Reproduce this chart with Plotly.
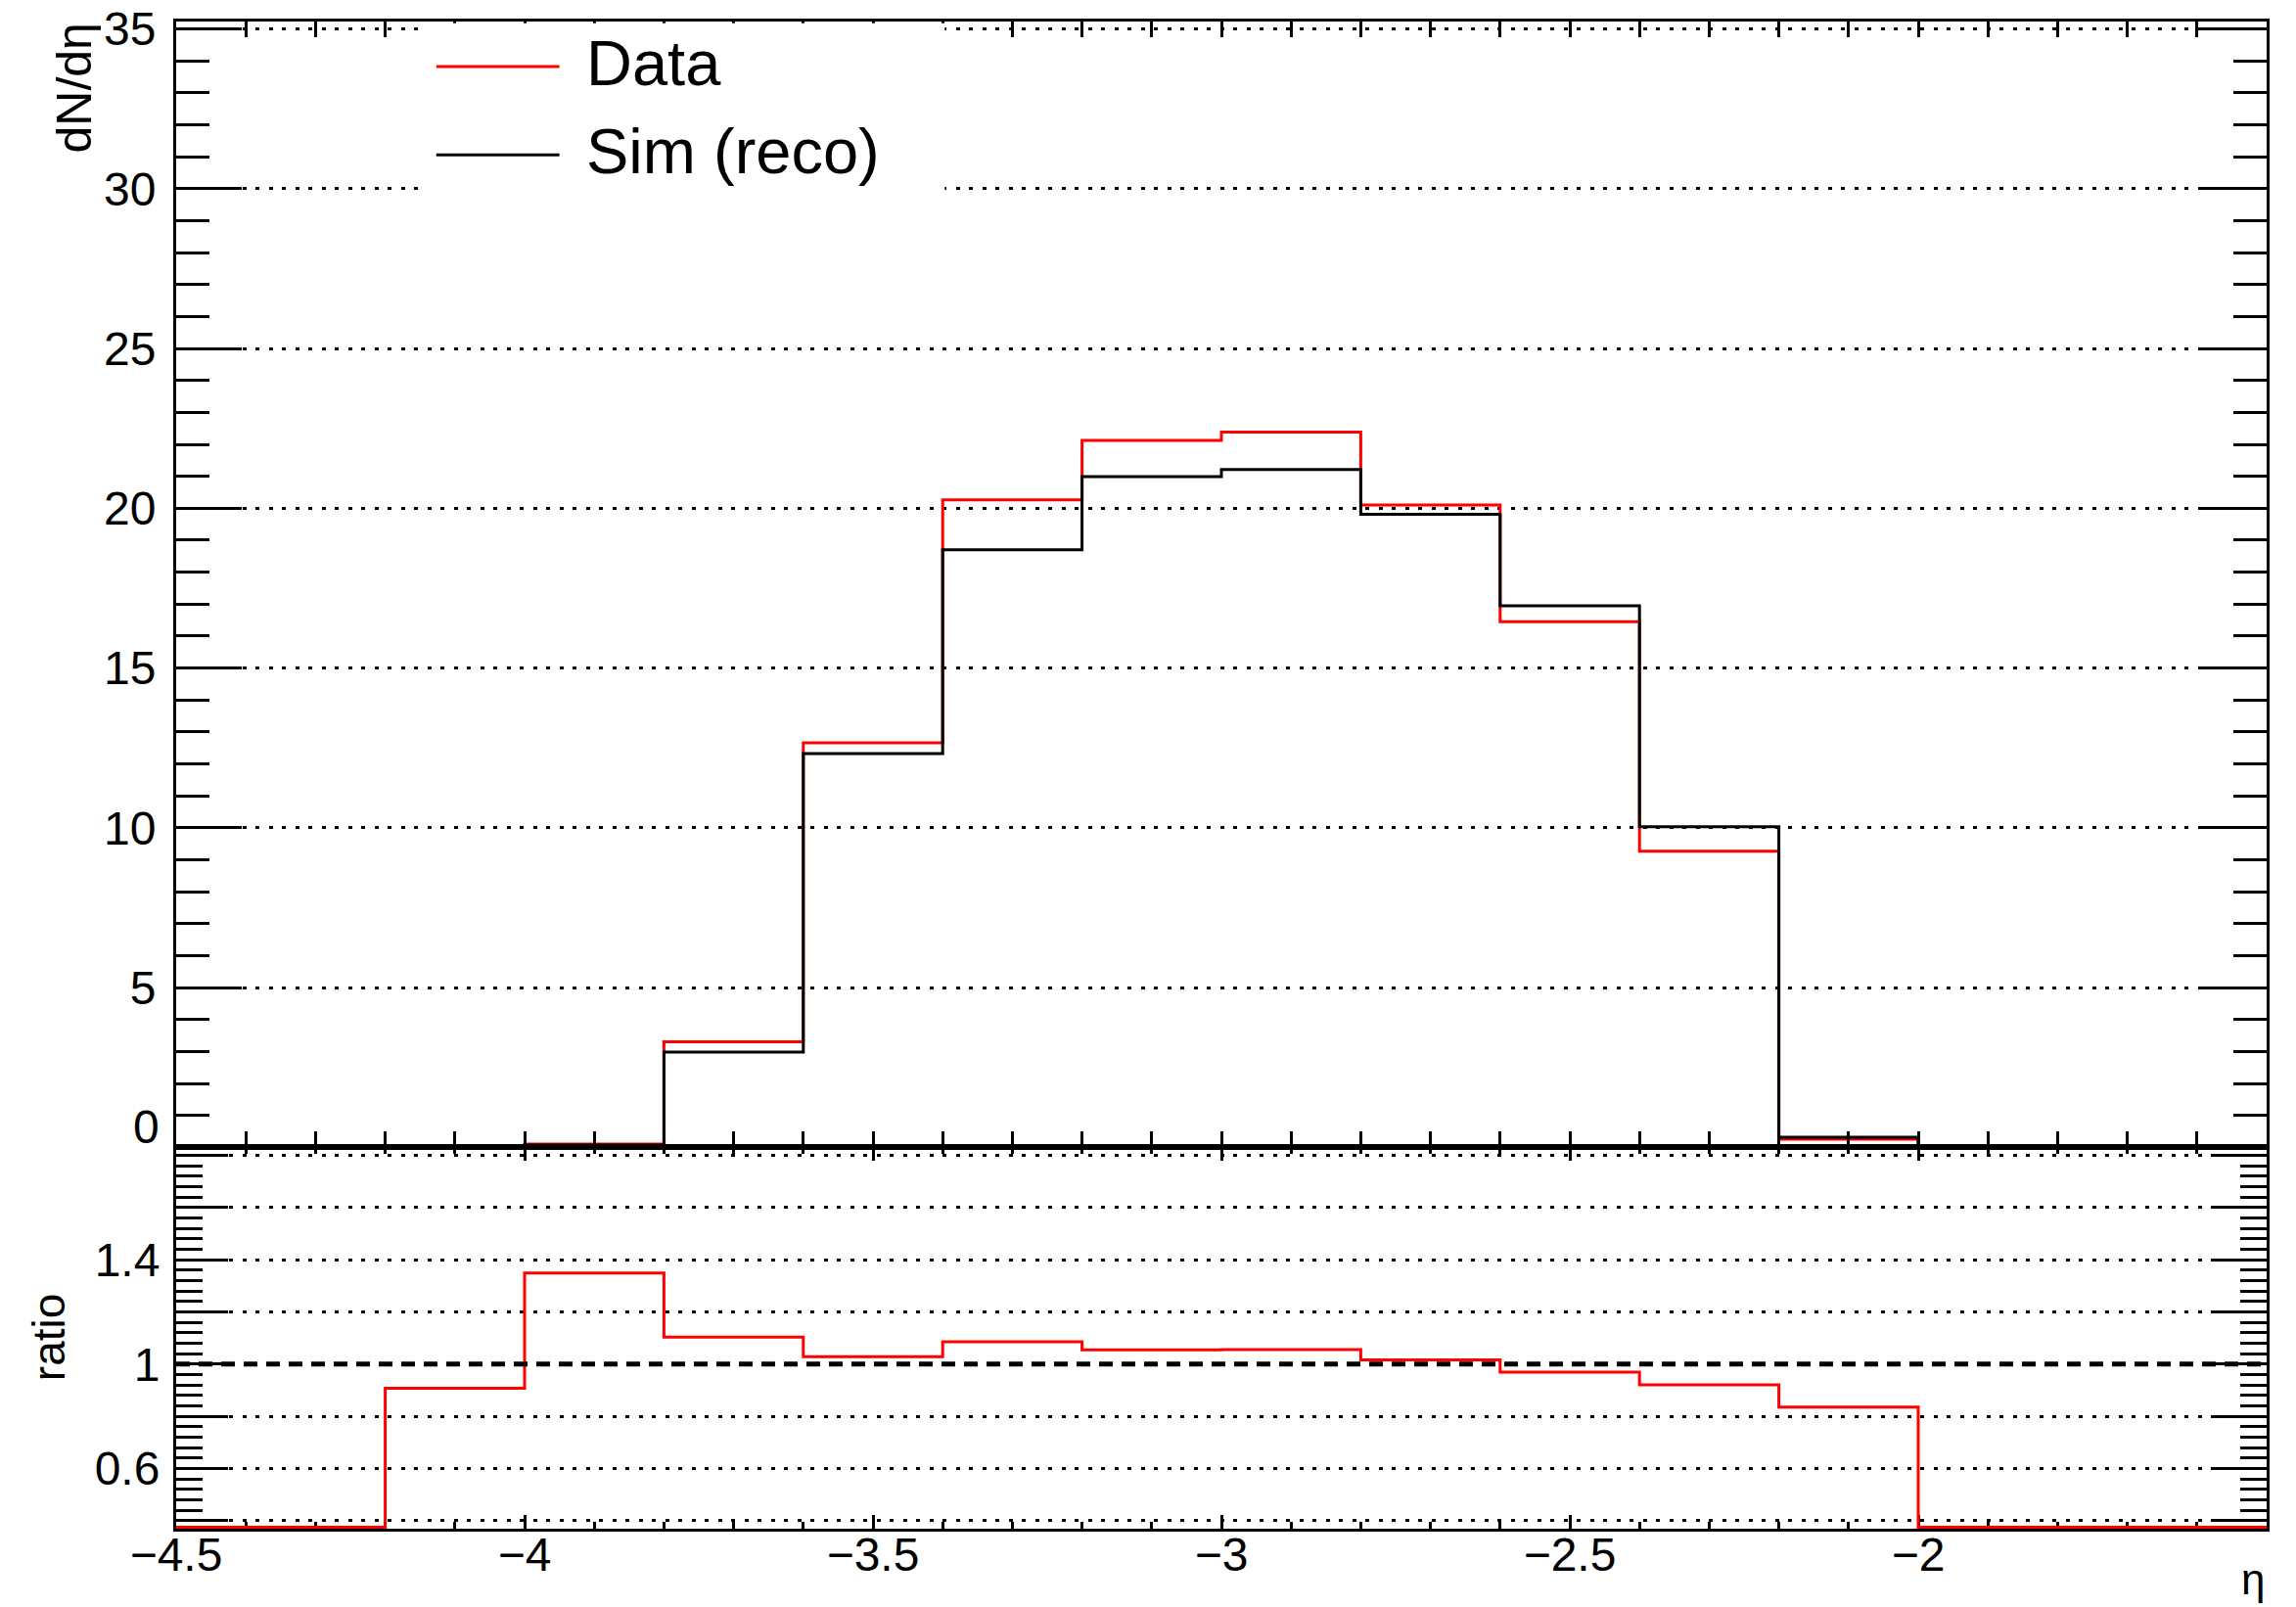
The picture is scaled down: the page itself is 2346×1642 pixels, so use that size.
import plotly.graph_objects as go

# ---------------- data ----------------
eta_edges = [-4.6, -4.4, -4.2, -4.0, -3.8, -3.6, -3.4, -3.2, -3.0, -2.8,
             -2.6, -2.4, -2.2, -2.0, -1.8, -1.6, -1.4]
data_vals = [0, 0, 0, 0.10, 3.30, 12.66, 20.26, 22.12, 22.38, 20.10,
             16.45, 9.27, 0.26, 0, 0, 0]
sim_vals = [0, 0, 0, 0.075, 2.98, 12.32, 18.70, 20.99, 21.21, 19.81,
            16.95, 10.03, 0.315, 0, 0, 0]
ratio_vals = [0, 0, 0.907, 1.349, 1.103, 1.028, 1.085, 1.054, 1.055, 1.016,
              0.969, 0.920, 0.835, 0, 0, 0]

x_tick_vals = [-4.5, -4.0, -3.5, -3.0, -2.5, -2.0, -1.5]
x_tick_text = ["\u22124.5", "\u22124", "\u22123.5", "\u22123", "\u22122.5", "\u22122", ""]
y_tick_vals = [0, 5, 10, 15, 20, 25, 30, 35]
y_tick_text = ["", "5", "10", "15", "20", "25", "30", "35"]
ratio_tick_vals = [0.4, 0.6, 0.8, 1.0, 1.2, 1.4, 1.6, 1.8]
ratio_tick_text = ["", "0.6", "", "1", "", "1.4", "", ""]

series_names = ["Data", "Sim (reco)"]
series_colors = ["#ff0000", "#000000"]

x_range = [-4.5, -1.5]
y_range = [0, 35.23]
ratio_range = [0.369, 1.83]
ratio_ref = 1.0

# ---------------- figure ----------------
W, H = 2346, 1642
ML, MR, MT, MB = 180, 30, 22, 80
split = 0.2530
FONT = "Liberation Sans, Arial, Helvetica, sans-serif"
grid_dash = "4px,9.5px"


def steps(vals):
    return list(eta_edges), list(vals) + [vals[-1]]


fig = go.Figure()
for vals, name, col in [(data_vals, series_names[0], series_colors[0]),
                        (sim_vals, series_names[1], series_colors[1])]:
    xs, ys = steps(vals)
    fig.add_trace(go.Scatter(x=xs, y=ys, mode="lines", name=name,
                             line=dict(color=col, width=3, shape="hv"),
                             xaxis="x", yaxis="y", showlegend=False,
                             hoverinfo="skip"))

# white underlay hiding the dotted grid line under the ratio = 1 reference line
fig.add_trace(go.Scatter(x=x_range, y=[ratio_ref, ratio_ref], mode="lines",
                         line=dict(color="white", width=5),
                         xaxis="x2", yaxis="y2", showlegend=False,
                         hoverinfo="skip"))

# ratio: values below the axis minimum are drawn on the frame (ROOT style)
eps = 0.006
ratio_draw = [max(r, ratio_range[0] + eps) for r in ratio_vals]
xs, ys = steps(ratio_draw)
fig.add_trace(go.Scatter(x=xs, y=ys, mode="lines", name="ratio",
                         line=dict(color=series_colors[0], width=3, shape="hv"),
                         xaxis="x2", yaxis="y2", showlegend=False,
                         hoverinfo="skip"))

axis_common = dict(showline=True, linecolor="black", linewidth=3,
                   mirror="ticks", ticks="inside", tickcolor="black",
                   tickwidth=3, zeroline=False, automargin=False,
                   tickfont=dict(family=FONT, size=48, color="black"))

fig.update_layout(
    width=W, height=H,
    margin=dict(l=ML, r=MR, t=MT, b=MB, autoexpand=False),
    paper_bgcolor="white", plot_bgcolor="white",
    showlegend=False,
    font=dict(family=FONT, color="black", size=48),
    xaxis=dict(domain=[0, 1], anchor="y", range=x_range,
               tickmode="array", tickvals=x_tick_vals, ticktext=[""] * len(x_tick_vals),
               showticklabels=False, ticklen=32, showgrid=False,
               minor=dict(tickmode="linear", tick0=-4.5, dtick=0.1,
                          ticklen=16, tickwidth=3, tickcolor="black",
                          ticks="inside", showgrid=False),
               **axis_common),
    yaxis=dict(domain=[split, 1], anchor="x", range=y_range,
               tickmode="array", tickvals=y_tick_vals, ticktext=y_tick_text,
               ticklen=67, showgrid=True, gridcolor="black", gridwidth=3,
               griddash=grid_dash, ticklabelstandoff=8,
               minor=dict(tickmode="linear", tick0=0, dtick=1,
                          ticklen=34, tickwidth=3, tickcolor="black",
                          ticks="inside", showgrid=False),
               **axis_common),
    xaxis2=dict(domain=[0, 1], anchor="y2", range=x_range, matches="x",
                tickmode="array", tickvals=x_tick_vals, ticktext=x_tick_text,
                ticklen=14, showgrid=False, layer="below traces",
                ticklabelstandoff=-18,
                minor=dict(tickmode="linear", tick0=-4.5, dtick=0.1,
                           ticklen=7, tickwidth=3, tickcolor="black",
                           ticks="inside", showgrid=False),
                **axis_common),
    yaxis2=dict(domain=[0, split], anchor="x2", range=ratio_range,
                tickmode="array", tickvals=ratio_tick_vals, ticktext=ratio_tick_text,
                ticklen=53, showgrid=True, gridcolor="black", gridwidth=3,
                griddash=grid_dash, ticklabelstandoff=4,
                minor=dict(tickmode="linear", tick0=0.4, dtick=0.04,
                           ticklen=27, tickwidth=3, tickcolor="black",
                           ticks="inside", showgrid=False),
                **axis_common),
)

# reference line at ratio = 1
fig.add_shape(type="line", xref="x2 domain", x0=0, x1=1, yref="y2",
              y0=ratio_ref, y1=ratio_ref,
              line=dict(color="black", width=5, dash="14px,9px"), layer="above")

# legend (white box covering grid, ROOT-like line samples)
fig.add_shape(type="rect", xref="x", yref="y", x0=-4.1436, x1=-3.397,
              y0=29.62, y1=y_range[1] - 0.05,
              fillcolor="white", line=dict(width=0), layer="above")
leg_y = [33.82, 31.06]
for i in range(2):
    fig.add_shape(type="line", xref="x", yref="y", x0=-4.1267, x1=-3.95,
                  y0=leg_y[i], y1=leg_y[i],
                  line=dict(color=series_colors[i], width=3), layer="above")
    fig.add_annotation(x=-3.915, y=leg_y[i] + 0.12, xref="x", yref="y",
                       text=series_names[i], showarrow=False,
                       xanchor="left", yanchor="middle",
                       font=dict(family=FONT, size=65, color="black"))

# "0" label of the upper y axis sits just above the pad edge
fig.add_annotation(x=0, y=0, xref="paper", yref="y", text="0", showarrow=False,
                   xanchor="right", yanchor="bottom", xshift=-15, yshift=-8,
                   font=dict(family=FONT, size=48, color="black"))

# axis titles
fig.add_annotation(x=(75 - ML) / (W - ML - MR), y=1, xref="paper", yref="paper",
                   text="dN/d\u03b7", textangle=-90, showarrow=False,
                   xanchor="center", yanchor="top",
                   font=dict(family=FONT, size=50, color="black"))
fig.add_annotation(x=(50 - ML) / (W - ML - MR), y=(split / 2), xref="paper", yref="paper",
                   text="ratio", textangle=-90, showarrow=False,
                   xanchor="center", yanchor="middle",
                   font=dict(family=FONT, size=46, color="black"))
fig.add_annotation(x=1, y=-MB / (H - MT - MB), xref="paper", yref="paper",
                   text="\u03b7", showarrow=False,
                   xanchor="right", yanchor="bottom", yshift=2,
                   font=dict(family=FONT, size=44, color="black"))

fig.write_html("out.html", config={"displayModeBar": False},
               post_script="document.body.style.margin='0';")
